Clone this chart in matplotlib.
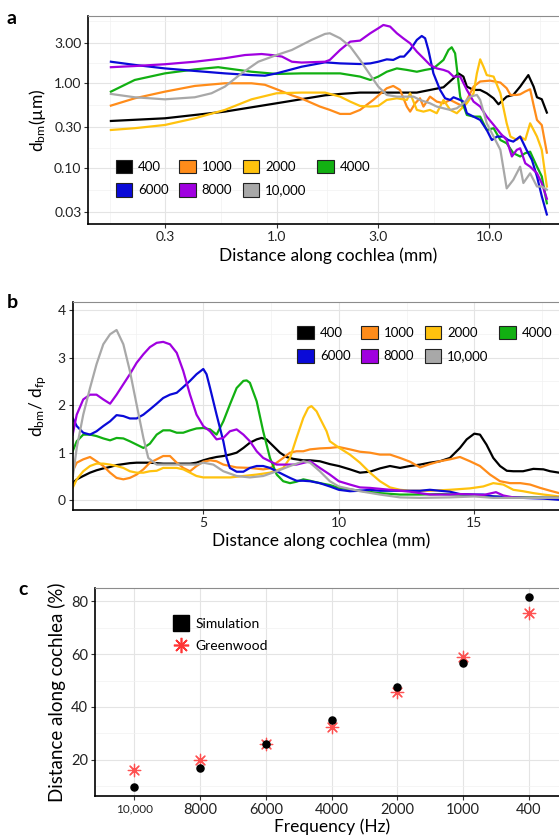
#!/usr/bin/env python3
import matplotlib
matplotlib.use("Agg")
import matplotlib.pyplot as plt
from matplotlib.lines import Line2D
from matplotlib.patches import Patch
from matplotlib.ticker import FixedLocator, NullFormatter

plt.rcParams['font.family'] = ['Lato', 'DejaVu Sans']
plt.rcParams['mathtext.fontset'] = 'custom'
plt.rcParams['mathtext.rm'] = 'Lato'
plt.rcParams['mathtext.it'] = 'Lato:italic'

# ---- data --------------------------------------------------------------
freqs = ['400', '1000', '2000', '4000', '6000', '8000', '10,000']
colors = ['#000000', '#FF8C1A', '#FFC20E', '#12B012', '#0A0AD8', '#A000E0', '#A8A8A8']

# panel a: basilar membrane displacement (um) vs distance (mm), log-log
a_x = {
    '400': [0.166, 0.298, 0.571, 1.0, 1.69, 1.99, 2.47, 3.68, 4.57, 5.47, 6.10, 6.80, 7.17, 7.57, 7.86, 8.45,
            9.08, 9.75, 10.5, 11.07, 12.1, 13.0, 14.0, 15.3, 16.2, 16.8, 17.7, 18.7],
    '1000': [0.166, 0.215, 0.298, 0.412, 0.571, 0.762, 0.881, 1.0, 1.18, 1.31, 1.60, 1.78, 1.99, 2.22, 2.47,
             2.85, 3.30, 3.54, 3.81, 4.10, 4.25, 4.49, 4.73, 4.91, 5.27, 5.67, 6.10, 6.56, 7.05, 7.57, 8.15,
             8.45, 9.08, 10.1, 11.3, 12.1, 12.6, 13.5, 14.0, 14.8, 15.6, 16.2, 16.8, 17.7, 18.7],
    '2000': [0.166, 0.215, 0.298, 0.412, 0.571, 0.762, 1.0, 1.31, 1.69, 1.99, 2.22, 2.47, 2.76, 3.01, 3.30,
             3.68, 4.10, 4.25, 4.57, 4.91, 5.27, 5.67, 6.10, 6.56, 7.05, 7.57, 7.86, 8.45, 8.76, 9.08, 9.41,
             9.75, 10.5, 11.3, 12.1, 12.6, 13.5, 14.0, 14.8, 15.6, 16.8, 17.7, 18.7],
    '4000': [0.166, 0.215, 0.298, 0.412, 0.531, 0.762, 1.0, 1.31, 1.69, 1.99, 2.47, 2.76, 3.01, 3.30, 3.68,
             4.10, 4.57, 5.0, 5.47, 6.10, 6.44, 6.67, 6.92, 7.31, 7.86, 8.45, 9.08, 9.75, 10.5, 11.3, 12.1,
             13.0, 14.0, 14.8, 15.6, 16.8, 17.7, 18.7],
    '6000': [0.166, 0.215, 0.298, 0.412, 0.571, 0.762, 0.881, 1.0, 1.31, 1.69, 1.99, 2.47, 2.76, 3.01, 3.30,
             3.54, 3.81, 3.98, 4.25, 4.57, 4.82, 5.0, 5.18, 5.47, 5.88, 6.21, 6.56, 6.80, 7.31, 7.57, 7.86,
             8.45, 9.08, 9.75, 10.3, 10.9, 11.7, 12.3, 13.0, 14.0, 15.0, 15.9, 16.8, 17.7, 18.7],
    '8000': [0.166, 0.215, 0.298, 0.412, 0.571, 0.71, 0.85, 0.95, 1.06, 1.18, 1.31, 1.69, 1.78, 1.99, 2.22,
             2.47, 2.76, 3.01, 3.18, 3.42, 3.68, 3.95, 4.25, 4.57, 4.91, 5.27, 5.67, 6.10, 6.44, 6.80, 7.31,
             7.86, 8.45, 9.08, 9.75, 10.5, 11.3, 12.1, 12.8, 13.5, 14.0, 14.8, 15.6, 16.8, 17.7, 18.7],
    '10,000': [0.166, 0.215, 0.298, 0.412, 0.494, 0.571, 0.684, 0.82, 1.0, 1.18, 1.46, 1.69, 1.78, 1.99,
               2.22, 2.47, 2.76, 3.01, 3.30, 3.68, 4.10, 4.41, 4.73, 5.27, 5.67, 6.10, 6.56, 7.05, 7.57,
               8.15, 8.76, 9.08, 9.75, 10.5, 11.3, 12.1, 13.0, 14.0, 14.5, 15.6, 16.8, 17.7, 18.7],
}
a_y = {
    '400': [0.358, 0.385, 0.462, 0.58, 0.72, 0.748, 0.776, 0.776, 0.776, 0.849, 0.897, 1.146, 1.31, 1.20,
            0.913, 0.834, 0.834, 0.762, 0.664, 0.564, 0.695, 0.728, 0.913, 1.25, 0.913, 0.683, 0.647, 0.45],
    '1000': [0.544, 0.664, 0.796, 0.93, 1.0, 1.0, 0.96, 0.85, 0.72, 0.66, 0.53, 0.484, 0.434, 0.434, 0.484,
             0.635, 0.873, 0.93, 0.834, 0.53, 0.462, 0.58, 0.664, 0.53, 0.695, 0.607, 0.58, 0.635, 0.58,
             0.53, 0.762, 0.913, 1.05, 1.075, 1.02, 0.873, 0.728, 0.728, 0.74, 0.80, 0.85, 0.55, 0.368,
             0.32, 0.151],
    '2000': [0.28, 0.294, 0.321, 0.385, 0.484, 0.646, 0.762, 0.776, 0.776, 0.695, 0.607, 0.539, 0.53, 0.539,
             0.635, 0.664, 0.635, 0.762, 0.484, 0.462, 0.484, 0.442, 0.635, 0.484, 0.442, 0.53, 0.58,
             0.762, 1.31, 1.92, 1.57, 1.25, 1.20, 0.762, 0.336, 0.234, 0.214, 0.234, 0.214, 0.336, 0.234,
             0.163, 0.06],
    '4000': [0.796, 1.095, 1.31, 1.46, 1.55, 1.37, 1.29, 1.31, 1.31, 1.31, 1.20, 1.095, 1.20, 1.37, 1.50,
             1.44, 1.37, 1.44, 1.50, 1.89, 2.48, 2.67, 2.26, 0.695, 0.422, 0.403, 0.403, 0.28, 0.294, 0.213,
             0.195, 0.149, 0.136, 0.149, 0.155, 0.103, 0.079, 0.038],
    '6000': [1.80, 1.65, 1.50, 1.40, 1.31, 1.25, 1.23, 1.31, 1.57, 1.77, 1.72, 1.69, 1.72, 1.80, 1.92, 1.89,
             2.07, 2.07, 2.48, 3.26, 3.63, 3.41, 2.48, 1.31, 0.834, 0.664, 0.635, 0.683, 0.635, 0.607, 0.442,
             0.403, 0.368, 0.28, 0.213, 0.234, 0.234, 0.213, 0.204, 0.234, 0.163, 0.124, 0.079, 0.046, 0.028],
    '8000': [1.55, 1.60, 1.68, 1.80, 1.98, 2.16, 2.22, 2.16, 2.07, 1.80, 1.76, 1.80, 1.89, 2.48, 3.11, 3.20,
             3.91, 4.48, 4.9, 4.69, 3.91, 3.40, 2.97, 2.37, 1.98, 1.65, 1.50, 1.44, 1.37, 1.20, 1.20, 0.834,
             0.607, 0.53, 0.403, 0.322, 0.256, 0.213, 0.136, 0.163, 0.17, 0.113, 0.103, 0.086, 0.0656, 0.043],
    '10,000': [0.748, 0.683, 0.646, 0.683, 0.762, 0.913, 1.31, 1.80, 2.16, 2.48, 3.26, 3.84, 3.91, 3.41,
               2.72, 1.89, 1.25, 0.913, 0.728, 0.695, 0.695, 0.695, 0.635, 0.58, 0.53, 0.506, 0.484, 0.506,
               0.58, 0.695, 0.728, 0.635, 0.336, 0.234, 0.163, 0.057, 0.072, 0.103, 0.066, 0.086, 0.06,
               0.06, 0.055],
}

# panel b: d_bm / d_fp vs distance (mm)
b_x = {
    '400': [0.18, 0.33, 0.57, 0.82, 1.06, 1.31, 1.56, 1.80, 2.05, 2.29, 2.54, 3.03, 3.52, 4.02, 4.51, 4.75,
            5.0, 5.25, 5.49, 5.74, 5.98, 6.23, 6.48, 6.72, 6.97, 7.15, 7.33, 7.58, 7.83, 8.07, 8.32, 8.69,
            8.94, 9.3, 9.67, 10.0, 10.41, 10.78, 11.15, 11.52, 11.89, 12.26, 12.63, 13.0, 13.36, 13.73,
            14.1, 14.47, 14.72, 15.0, 15.21, 15.45, 15.7, 15.95, 16.2, 16.44, 16.8, 17.18, 17.55, 17.8, 18.13],
    '1000': [0.18, 0.33, 0.57, 0.82, 1.06, 1.31, 1.56, 1.80, 2.05, 2.29, 2.54, 2.79, 3.03, 3.28, 3.52, 3.77,
             4.02, 4.26, 4.51, 4.75, 5.0, 5.25, 5.49, 5.74, 5.98, 6.23, 6.72, 7.21, 7.46, 7.71, 7.95, 8.20,
             8.44, 8.69, 8.94, 9.3, 9.67, 10.0, 10.41, 10.78, 11.15, 11.52, 11.89, 12.26, 12.63, 13.0,
             13.36, 13.73, 14.1, 14.47, 14.84, 15.21, 15.58, 15.95, 16.32, 16.7, 17.06, 17.43, 17.8, 18.13],
    '2000': [0.18, 0.33, 0.57, 0.82, 1.06, 1.31, 1.56, 1.80, 2.05, 2.29, 2.54, 2.79, 3.03, 3.28, 3.52, 4.02,
             4.26, 4.51, 4.75, 5.0, 6.0, 6.48, 6.97, 7.46, 7.95, 8.20, 8.44, 8.69, 8.87, 8.99, 9.18, 9.30,
             9.55, 9.67, 10.02, 10.41, 10.78, 11.15, 11.52, 11.89, 12.26, 12.63, 13.36, 14.1, 14.84, 15.33,
             15.7, 16.07, 16.44, 16.8, 17.18, 17.55, 18.13],
    '4000': [0.18, 0.33, 0.57, 0.82, 1.06, 1.31, 1.56, 1.80, 2.05, 2.29, 2.54, 2.79, 3.03, 3.28, 3.52, 3.77,
             4.02, 4.26, 4.51, 4.75, 5.0, 5.25, 5.49, 5.74, 5.98, 6.23, 6.48, 6.6, 6.72, 6.97, 7.21, 7.46,
             7.71, 7.95, 8.20, 8.44, 8.69, 8.94, 9.3, 9.67, 10.0, 10.78, 11.52, 12.26, 13.0, 13.73, 14.47,
             15.0, 15.7, 16.44, 17.18, 18.13],
    '6000': [0.18, 0.33, 0.57, 0.82, 1.06, 1.31, 1.56, 1.80, 2.05, 2.29, 2.54, 2.79, 3.03, 3.28, 3.52, 3.77,
             4.02, 4.26, 4.51, 4.75, 5.0, 5.12, 5.25, 5.49, 5.74, 5.86, 5.98, 6.23, 6.48, 6.72, 6.97, 7.21,
             7.46, 7.71, 7.95, 8.20, 8.44, 8.69, 8.94, 9.3, 9.67, 10.0, 10.41, 10.78, 11.15, 11.52, 12.26,
             13.0, 13.36, 13.73, 14.1, 14.47, 15.0, 15.33, 15.7, 16.44, 16.8, 17.55, 18.13],
    '8000': [0.18, 0.33, 0.57, 0.82, 1.06, 1.31, 1.56, 1.80, 2.05, 2.29, 2.54, 2.79, 3.03, 3.28, 3.52, 3.77,
             4.02, 4.26, 4.51, 4.75, 5.0, 5.25, 5.49, 5.74, 5.98, 6.23, 6.48, 6.72, 6.97, 7.21, 7.46, 7.71,
             8.44, 8.94, 9.3, 9.67, 10.0, 10.41, 10.78, 11.15, 11.89, 12.26, 12.63, 13.0, 13.36, 14.1, 14.47,
             15.0, 15.33, 15.8, 16.07, 16.44, 16.8, 17.55, 18.13],
    '10,000': [0.18, 0.33, 0.57, 0.82, 1.06, 1.31, 1.56, 1.80, 2.05, 2.29, 2.54, 2.79, 2.97, 3.28, 3.77,
               4.26, 4.75, 5.0, 5.37, 5.74, 6.23, 6.72, 7.21, 7.71, 8.20, 8.69, 8.94, 9.3, 9.67, 10.0,
               10.78, 11.52, 12.26, 13.0, 14.1, 15.0, 15.7, 16.44, 17.55, 18.13],
}
b_y = {
    '400': [0.36, 0.44, 0.51, 0.58, 0.63, 0.67, 0.70, 0.74, 0.76, 0.78, 0.79, 0.79, 0.77, 0.77, 0.77, 0.79,
            0.84, 0.88, 0.91, 0.93, 0.96, 1.0, 1.10, 1.21, 1.28, 1.31, 1.28, 1.14, 1.0, 0.91, 0.87, 0.84,
            0.84, 0.82, 0.76, 0.72, 0.65, 0.58, 0.60, 0.67, 0.72, 0.68, 0.72, 0.75, 0.79, 0.82, 0.89, 1.10,
            1.28, 1.40, 1.38, 1.17, 0.89, 0.72, 0.62, 0.61, 0.61, 0.66, 0.65, 0.61, 0.58],
    '1000': [0.61, 0.79, 0.86, 0.91, 0.82, 0.72, 0.58, 0.47, 0.44, 0.47, 0.54, 0.65, 0.79, 0.86, 0.93, 0.93,
             0.79, 0.68, 0.61, 0.72, 0.81, 0.84, 0.82, 0.75, 0.72, 0.69, 0.68, 0.65, 0.67, 0.79, 0.89, 1.0,
             1.03, 1.03, 1.07, 1.09, 1.10, 1.12, 1.07, 1.02, 1.0, 0.96, 0.96, 0.89, 0.81, 0.69, 0.76, 0.82,
             0.86, 0.91, 0.82, 0.72, 0.54, 0.40, 0.36, 0.36, 0.33, 0.26, 0.20, 0.15],
    '2000': [0.26, 0.44, 0.61, 0.72, 0.77, 0.77, 0.75, 0.72, 0.68, 0.61, 0.58, 0.58, 0.61, 0.62, 0.68, 0.68,
             0.65, 0.58, 0.51, 0.48, 0.48, 0.51, 0.54, 0.58, 0.68, 0.89, 1.31, 1.73, 1.94, 1.98, 1.87, 1.73,
             1.45, 1.24, 1.10, 0.96, 0.79, 0.58, 0.40, 0.27, 0.22, 0.20, 0.20, 0.22, 0.25, 0.29, 0.36, 0.33,
             0.22, 0.19, 0.15, 0.12, 0.08],
    '4000': [1.03, 1.24, 1.38, 1.38, 1.35, 1.30, 1.26, 1.31, 1.30, 1.24, 1.17, 1.10, 1.19, 1.38, 1.47, 1.47,
             1.42, 1.42, 1.47, 1.51, 1.52, 1.49, 1.38, 1.66, 2.01, 2.36, 2.51, 2.52, 2.47, 2.08, 1.45, 0.89,
             0.54, 0.40, 0.36, 0.39, 0.44, 0.41, 0.36, 0.32, 0.26, 0.20, 0.15, 0.12, 0.12, 0.13, 0.12, 0.11,
             0.08, 0.06, 0.06, 0.05],
    '6000': [1.73, 1.56, 1.42, 1.38, 1.45, 1.56, 1.66, 1.79, 1.77, 1.72, 1.72, 1.80, 1.91, 2.03, 2.15, 2.22,
             2.26, 2.38, 2.51, 2.65, 2.76, 2.65, 2.36, 1.80, 1.24, 0.89, 0.68, 0.60, 0.60, 0.68, 0.72, 0.72,
             0.68, 0.61, 0.54, 0.47, 0.41, 0.41, 0.40, 0.36, 0.29, 0.22, 0.19, 0.20, 0.22, 0.20, 0.20, 0.20,
             0.22, 0.20, 0.18, 0.13, 0.12, 0.12, 0.08, 0.06, 0.05, 0.035, 0.01],
    '8000': [1.38, 1.80, 2.12, 2.22, 2.22, 2.12, 2.03, 2.22, 2.44, 2.65, 2.89, 3.07, 3.22, 3.31, 3.33, 3.28,
             3.10, 2.72, 2.22, 1.80, 1.56, 1.45, 1.28, 1.31, 1.45, 1.49, 1.38, 1.24, 1.03, 0.89, 0.82, 0.75,
             0.75, 0.82, 0.68, 0.54, 0.40, 0.33, 0.27, 0.26, 0.22, 0.20, 0.18, 0.15, 0.12, 0.12, 0.13, 0.12,
             0.11, 0.17, 0.10, 0.06, 0.05, 0.05, 0.05],
    '10,000': [0.47, 1.10, 1.80, 2.36, 2.86, 3.28, 3.49, 3.58, 3.28, 2.72, 2.01, 1.31, 0.89, 0.75, 0.75,
               0.75, 0.75, 0.79, 0.75, 0.61, 0.51, 0.48, 0.51, 0.61, 0.72, 0.82, 0.79, 0.61, 0.40, 0.29,
               0.19, 0.12, 0.06, 0.05, 0.06, 0.08, 0.05, 0.05, 0.05, 0.05],
}

# panel c: position of maximum (% of cochlear length)
freq_labels = ['10,000', '8000', '6000', '4000', '2000', '1000', '400']
simulation = [9.8, 17.0, 26.0, 35.1, 47.7, 56.8, 81.6]
greenwood = [16.2, 19.9, 26.0, 32.3, 45.6, 59.1, 75.7]


def style_axes(ax):
    ax.set_facecolor('white')
    for s in ['top', 'right']:
        ax.spines[s].set_color('#8C8C8C')
        ax.spines[s].set_linewidth(0.8)
    for s in ['left', 'bottom']:
        ax.spines[s].set_color('black')
        ax.spines[s].set_linewidth(1.2)
    ax.grid(which='major', color='#E4E4E4', lw=0.8)
    ax.grid(which='minor', color='#F1F1F1', lw=0.5)
    ax.set_axisbelow(True)
    ax.tick_params(which='major', length=3, width=0.8, color='#333333',
                   labelsize=10, labelcolor='#222222', pad=2)
    ax.tick_params(which='minor', length=0)


def add_legend(ax, anchor):
    handles = [Patch(facecolor=c, edgecolor='#222222', lw=0.8, label=f) for f, c in zip(freqs, colors)]
    # legend fills column by column, so interleave to get 4 items on the first row
    order = [0, 4, 1, 5, 2, 6, 3]
    ax.legend(handles=[handles[i] for i in order], ncol=4, loc='upper left', bbox_to_anchor=anchor,
              bbox_transform=ax.transAxes, frameon=False, fontsize=9.5,
              handlelength=1.25, handleheight=1.2, handletextpad=0.45,
              columnspacing=0.8, labelspacing=0.75, borderpad=0, borderaxespad=0)


fig = plt.figure(figsize=(5.59, 8.38), dpi=100)
fig.patch.set_facecolor('white')

# ---- panel a -----------------------------------------------------------
ax_a = fig.add_axes([0.158, 0.7323, 0.858, 0.2489])
for f, c in zip(freqs, colors):
    ax_a.plot(a_x[f], a_y[f], color=c, lw=1.6)
ax_a.set_xscale('log')
ax_a.set_yscale('log')
ax_a.set_xlim(0.130, 23.5)
ax_a.set_ylim(0.0214, 6.3)
ax_a.set_xticks([0.3, 1, 3, 10])
ax_a.set_xticklabels(['0.3', '1.0', '3.0', '10.0'])
ax_a.set_yticks([0.03, 0.1, 0.3, 1, 3])
ax_a.set_yticklabels(['0.03', '0.10', '0.30', '1.00', '3.00'])
ax_a.xaxis.set_minor_locator(FixedLocator([0.164, 0.548, 1.73, 5.48, 17.3]))
ax_a.yaxis.set_minor_locator(FixedLocator([0.0548, 0.173, 0.548, 1.73, 5.48]))
ax_a.xaxis.set_minor_formatter(NullFormatter())
ax_a.yaxis.set_minor_formatter(NullFormatter())
style_axes(ax_a)
ax_a.set_xlabel('Distance along cochlea (mm)', fontsize=12.5, labelpad=3)
ax_a.set_ylabel(r'd$_{\mathrm{bm}}$(µm)', fontsize=12.5, labelpad=4)
add_legend(ax_a, (0.057, 0.31))
fig.text(12 / 559, 1 - 18 / 838, 'a', fontsize=14, fontweight='bold', ha='center', va='center')

# ---- panel b -----------------------------------------------------------
ax_b = fig.add_axes([0.130, 0.3918, 0.8896, 0.2479])
for f, c in zip(freqs, colors):
    ax_b.plot(b_x[f], b_y[f], color=c, lw=1.6)
ax_b.set_xlim(0.18, 18.53)
ax_b.set_ylim(-0.198, 4.17)
ax_b.set_xticks([5, 10, 15])
ax_b.set_yticks([0, 1, 2, 3, 4])
ax_b.xaxis.set_minor_locator(FixedLocator([2.5, 7.5, 12.5, 17.5]))
ax_b.yaxis.set_minor_locator(FixedLocator([0.5, 1.5, 2.5, 3.5]))
style_axes(ax_b)
ax_b.set_xlabel('Distance along cochlea (mm)', fontsize=12.5, labelpad=3)
ax_b.set_ylabel(r'd$_{\mathrm{bm}}$/ d$_{\mathrm{fp}}$', fontsize=12.5, labelpad=6)
add_legend(ax_b, (0.452, 0.885))
fig.text(12 / 559, 1 - 303 / 838, 'b', fontsize=14, fontweight='bold', ha='center', va='center')

# ---- panel c -----------------------------------------------------------
ax_c = fig.add_axes([0.170, 0.0501, 0.8465, 0.2486])
ax_c.scatter(freq_labels, greenwood, marker=(8, 2, 0), s=80, color='#FF3535', lw=0.9,
             alpha=0.85, zorder=3)
ax_c.scatter(freq_labels, simulation, marker='o', s=26, color='black', zorder=4)
ax_c.set_xlim(-0.6, 6.6)
ax_c.set_ylim(6.25, 85.2)
ax_c.set_yticks([20, 40, 60, 80])
ax_c.yaxis.set_minor_locator(FixedLocator([10, 30, 50, 70]))
style_axes(ax_c)
ax_c.tick_params(axis='both', labelsize=10.5)
ax_c.set_xticks(range(len(freq_labels)))
ax_c.set_xticklabels(freq_labels)
ax_c.get_xticklabels()[0].set_fontsize(8.5)
ax_c.set_xlabel('Frequency (Hz)', fontsize=12.5, labelpad=1)
ax_c.set_ylabel('Distance along cochlea (%)', fontsize=13.5, labelpad=4)
leg_handles = [
    Line2D([], [], marker='s', color='black', ls='none', markersize=11, label='Simulation'),
    Line2D([], [], marker=(8, 2, 0), color='#FF3535', ls='none', markersize=11, mew=1.2, label='Greenwood'),
]
ax_c.legend(handles=leg_handles, loc='upper left', bbox_to_anchor=(0.168, 0.855),
            bbox_transform=ax_c.transAxes, frameon=False, fontsize=10,
            handlelength=1.0, handletextpad=0.5, labelspacing=0.75, borderpad=0, borderaxespad=0)
fig.text(23 / 559, 1 - 589 / 838, 'c', fontsize=14, fontweight='bold', ha='center', va='center')

fig.savefig('out.png', dpi=100)
